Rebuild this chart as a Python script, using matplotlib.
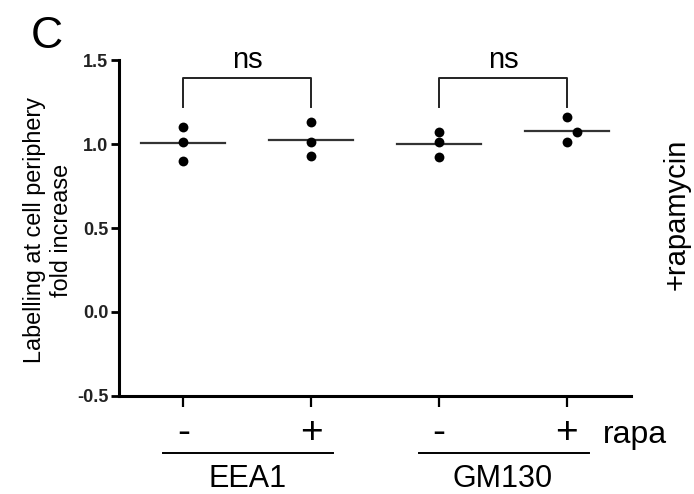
import matplotlib
matplotlib.use('Agg')
import matplotlib.pyplot as plt
import matplotlib.transforms as mtransforms
import numpy as np

plt.rcParams['font.family'] = ['Liberation Sans', 'DejaVu Sans']

# data: three replicates per condition
conditions = ['EEA1 -', 'EEA1 +', 'GM130 -', 'GM130 +']
rapa_labels = ['-', '+', '-', '+']
markers = ['EEA1', 'GM130']
replicates = [
    [1.10, 1.01, 0.90],
    [1.13, 1.01, 0.93],
    [1.07, 1.01, 0.92],
    [1.16, 1.07, 1.01],
]
# small horizontal offsets where dots overlap in the original
x_jitter = [
    [0.0, 0.0, 0.0],
    [0.0, 0.0, 0.0],
    [0.0, 0.0, 0.0],
    [0.0, 0.08, 0.0],
]
comparisons = [(0, 1, 'ns'), (2, 3, 'ns')]

fig = plt.figure(figsize=(6.94, 4.94), dpi=100)
ax = fig.add_axes([0.172, 0.1984, 0.737, 0.6801])

xpos = np.arange(len(conditions))
for i, vals in enumerate(replicates):
    xs = xpos[i] + np.array(x_jitter[i])
    ax.scatter(xs, vals, s=50, color='black', zorder=3, linewidths=0)
    m = np.mean(vals)
    ax.plot([xpos[i] - 0.33, xpos[i] + 0.33], [m, m], color='#333333', lw=1.6, zorder=2)

# significance brackets
for a, b, txt in comparisons:
    ax.plot([a, a, b, b], [1.22, 1.39, 1.39, 1.22], color='#222222', lw=1.4, clip_on=False)
    ax.text((a + b) / 2, 1.455, txt, ha='center', va='baseline', fontsize=21)

ax.set_xlim(-0.5, 3.5)
ax.set_ylim(-0.5, 1.5)
ax.set_yticks([-0.5, 0.0, 0.5, 1.0, 1.5])
ax.set_yticklabels(['-0.5', '0.0', '0.5', '1.0', '1.5'], fontsize=13, fontweight='bold', color='#222222')
ax.set_xticks(xpos)
ax.set_xticklabels([])
ax.tick_params(axis='y', direction='out', length=6, width=2, pad=2)
ax.tick_params(axis='x', direction='out', length=8, width=1.6)

for side in ['top', 'right']:
    ax.spines[side].set_visible(False)
for side in ['left', 'bottom']:
    ax.spines[side].set_linewidth(2.2)

trans = mtransforms.blended_transform_factory(ax.transData, fig.transFigure)
for i, lab in enumerate(rapa_labels):
    ax.text(xpos[i], 0.1032, lab, transform=trans, ha='center', va='baseline', fontsize=28)
fig.text(603 / 694, 0.1032, 'rapa', ha='left', va='baseline', fontsize=23)

# group underlines and names
for g, name in enumerate(markers):
    x0, x1 = xpos[2 * g] - 0.16, xpos[2 * g + 1] + 0.17
    ax.plot([x0, x1], [0.083, 0.083], transform=trans, color='black', lw=1.4, clip_on=False)
    ax.text((xpos[2 * g] + xpos[2 * g + 1]) / 2, 0.014, name, transform=trans,
            ha='center', va='baseline', fontsize=22)

fig.text(0.069, 0.534, 'Labelling at cell periphery\nfold increase', rotation=90,
         ha='center', va='center', multialignment='center', fontsize=16.8, linespacing=1.25)
fig.text(0.9755, 0.5668, '+rapamycin', rotation=90, ha='center', va='center', fontsize=21)
fig.text(0.045, 0.9028, 'C', ha='left', va='baseline', fontsize=32)

fig.savefig('out.png', dpi=100)
